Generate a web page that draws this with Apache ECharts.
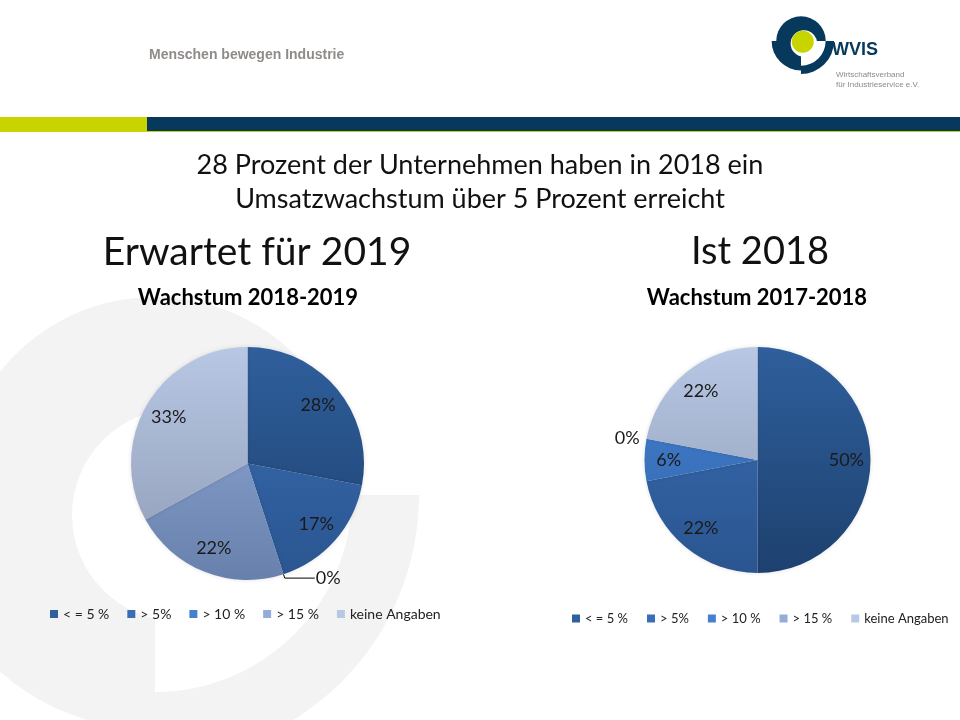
<!DOCTYPE html>
<html>
<head>
<meta charset="utf-8">
<script src="https://cdn.jsdelivr.net/npm/echarts@6/dist/echarts.min.js"></script>
<style>
html,body{margin:0;padding:0;background:#fff;}
#chart{width:960px;height:720px;}
</style>
</head>
<body>
<div id="chart"></div>
<script>
// ---- data ----
const categories = ['< = 5 %', '> 5%', '> 10 %', '> 15 %', 'keine Angaben'];
const values2019 = [28, 17, 0, 22, 33];   // Erwartet für 2019 (Wachstum 2018-2019)
const values2018 = [50, 22, 6, 0, 22];    // Ist 2018 (Wachstum 2017-2018)
const headline = ['28 Prozent der Unternehmen haben in 2018 ein', 'Umsatzwachstum über 5 Prozent erreicht'];
const leftTitle = 'Erwartet für 2019';
const rightTitle = 'Ist 2018';
const leftSub = 'Wachstum 2018-2019';
const rightSub = 'Wachstum 2017-2018';

// ---- styles ----
const FONT = 'Lato, "Open Sans", sans-serif';
const sliceColors = [
  ['#2f5f9c', '#1d416f'],
  ['#3a6db3', '#2a5590'],
  ['#4480d0', '#3266ad'],
  ['#93add9', '#6880ac'],
  ['#b8c7e4', '#8d9bb4']
];
function grad(i, y1, y2) {
  return {type: 'linear', x: 0, y: y1, x2: 0, y2: y2, global: true,
    colorStops: [{offset: 0, color: sliceColors[i][0]}, {offset: 1, color: sliceColors[i][1]}]};
}
function makePie(values, cx, cy, r, zeroLabel) {
  const main = {
    type: 'pie', center: [cx, cy], radius: r, startAngle: 90, clockwise: true,
    avoidLabelOverlap: false, animation: false, silent: true,
    itemStyle: {borderWidth: 0, shadowBlur: 4, shadowColor: 'rgba(0,0,0,0.12)'},
    label: {show: false},
    labelLine: {show: false},
    data: values.map((v, i) => {
      const d = {name: categories[i], value: v, itemStyle: {color: grad(i, cy - r, cy + r)}};
      if (v === 0) {
        d.label = {show: true, position: 'outside', formatter: '{c}%', color: '#1a1a1a',
          fontFamily: FONT, fontSize: 18, distanceToLabelLine: 1};
        d.labelLine = zeroLabel;
      }
      return d;
    })
  };
  const labels = {
    type: 'pie', center: [cx, cy], radius: r * 1.52, startAngle: 90, clockwise: true,
    avoidLabelOverlap: false, animation: false, silent: true, legendHoverLink: false,
    itemStyle: {color: 'rgba(0,0,0,0)', borderWidth: 0},
    label: {show: true, position: 'inside', formatter: '{c}%', color: '#1a1a1a',
      fontFamily: FONT, fontSize: 18},
    labelLine: {show: false},
    data: values.map((v) => ({value: v, label: {show: v !== 0}}))
  };
  return [main, labels];
}

// ---- background watermark & header graphics ----
const WM = '#f3f3f3';
const NAVY = '#06395c';
const LIME = '#c8d400';
function logoParts(cx, cy, s, fill, hole, inner) {
  return [
    {type: 'sector', shape: {cx: cx, cy: cy, r: 198 * s, r0: 0, startAngle: Math.PI, endAngle: 2 * Math.PI}, style: {fill: fill}, silent: true},
    {type: 'sector', shape: {cx: cx, cy: cy, r: 235 * s, r0: 0, startAngle: Math.PI / 2, endAngle: Math.PI}, style: {fill: fill}, silent: true},
    {type: 'sector', shape: {cx: cx, cy: cy, r: 264 * s, r0: 197 * s, startAngle: 0, endAngle: Math.PI / 2}, style: {fill: fill}, silent: true},
    {type: 'circle', shape: {cx: cx + 23 * s, cy: cy + 20 * s, r: 106 * s}, style: {fill: hole}, silent: true}
  ].concat(inner ? [{type: 'circle', shape: {cx: cx + 14 * s, cy: cy + 6 * s, r: 88 * s}, style: {fill: inner}, silent: true}] : []);
}

const graphics = []
  .concat(logoParts(155, 495, 1, WM, '#ffffff', null))
  .concat(logoParts(801, 41, 0.125, NAVY, '#ffffff', LIME))
  .concat([
    {type: 'text', left: 149, top: 48, style: {text: 'Menschen bewegen Industrie', fill: '#8f8b88',
      font: 'bold 14px "Liberation Sans", Arial, sans-serif'}, silent: true},
    {type: 'text', left: 832, top: 41, style: {text: 'WVIS', fill: NAVY,
      font: 'bold 18px "Liberation Sans", Arial, sans-serif'}, silent: true},
    {type: 'text', left: 836, top: 71, style: {text: 'Wirtschaftsverband', fill: '#8a8a8a',
      font: '8px "Liberation Sans", Arial, sans-serif'}, silent: true},
    {type: 'text', left: 836, top: 81, style: {text: 'für Industrieservice e.V.', fill: '#8a8a8a',
      font: '8px "Liberation Sans", Arial, sans-serif'}, silent: true},
    {type: 'rect', shape: {x: 0, y: 117, width: 147, height: 15}, style: {fill: LIME}, silent: true},
    {type: 'rect', shape: {x: 147, y: 117, width: 813, height: 14}, style: {fill: NAVY}, silent: true},
    {type: 'rect', shape: {x: 147, y: 131, width: 813, height: 1}, style: {fill: LIME}, silent: true},
    {type: 'text', x: 480, y: 165, style: {text: headline[0], fill: '#111', align: 'center', verticalAlign: 'middle',
      font: '27px ' + FONT}, silent: true},
    {type: 'text', x: 480, y: 199, style: {text: headline[1], fill: '#111', align: 'center', verticalAlign: 'middle',
      font: '27px ' + FONT}, silent: true},
    {type: 'text', x: 257, y: 252, style: {text: leftTitle, fill: '#111', align: 'center', verticalAlign: 'middle',
      font: '39px ' + FONT}, silent: true},
    {type: 'text', x: 760, y: 252, style: {text: rightTitle, fill: '#111', align: 'center', verticalAlign: 'middle',
      font: '38px ' + FONT}, silent: true},
    {type: 'text', x: 248, y: 298, style: {text: leftSub, fill: '#000', align: 'center', verticalAlign: 'middle',
      font: 'bold 22px ' + FONT}, silent: true},
    {type: 'text', x: 757, y: 298, style: {text: rightSub, fill: '#000', align: 'center', verticalAlign: 'middle',
      font: 'bold 22px ' + FONT}, silent: true}
  ]);
graphics.forEach((g) => { g.z = -10; });

const chart = echarts.init(document.getElementById('chart'), null, {renderer: 'canvas'});
const leftPie = makePie(values2019, 247.5, 463.5, 116.5, {show: true, length: 4, length2: 30, lineStyle: {color: '#000', width: 1}});
const rightPie = makePie(values2018, 757.5, 460, 113, {show: false, length: 4, length2: 2});

const legendBase = {
  orient: 'horizontal', icon: 'rect', itemWidth: 8, itemHeight: 8, itemGap: 18,
  width: 430, padding: 5,
  textStyle: {fontFamily: FONT, fontSize: 14, color: '#222'},
  selectedMode: false, data: categories
};
chart.setOption({
  animation: false,
  backgroundColor: '#ffffff',
  graphic: graphics,
  legend: [
    Object.assign({}, legendBase, {left: 45, top: 602}),
    Object.assign({}, legendBase, {left: 567, top: 607, itemGap: 19,
      textStyle: {fontFamily: FONT, fontSize: 13, color: '#222'}})
  ],
  series: [leftPie[0], rightPie[0], leftPie[1], rightPie[1]]
});
</script>
</body>
</html>
